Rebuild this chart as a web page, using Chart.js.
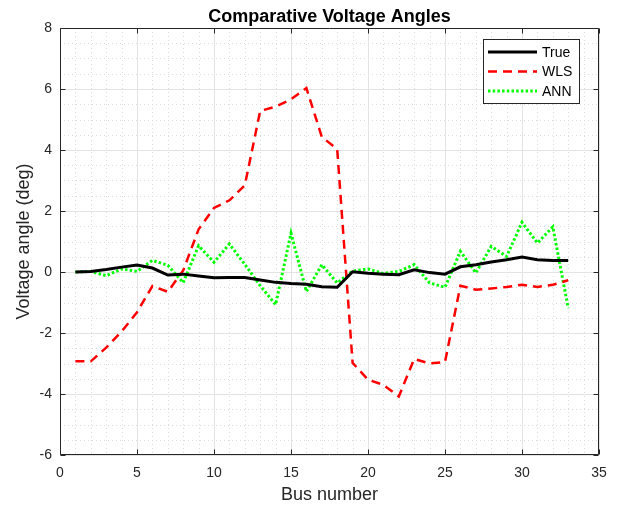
<!DOCTYPE html>
<html>
<head>
<meta charset="utf-8">
<title>Comparative Voltage Angles</title>
<script src="https://cdn.jsdelivr.net/npm/chart.js@4.4.1/dist/chart.umd.min.js"></script>
<style>
  html, body { margin: 0; padding: 0; background: #fff; }
  canvas { display: block; }
</style>
</head>
<body>
<canvas id="angleChart" width="619" height="506"></canvas>
<script>
'use strict';

// ============================================================
// DATA
// ============================================================
const busNumbers = [1, 2, 3, 4, 5, 6, 7, 8, 9, 10, 11, 12, 13, 14, 15, 16, 17,
                    18, 19, 20, 21, 22, 23, 24, 25, 26, 27, 28, 29, 30, 31, 32, 33];
const trueAngles = [0, 0.02, 0.08, 0.16, 0.23, 0.13, -0.1, -0.07, -0.13, -0.19, -0.18,
                    -0.18, -0.26, -0.34, -0.38, -0.4, -0.48, -0.5, 0.01, -0.04, -0.07,
                    -0.09, 0.07, -0.02, -0.07, 0.17, 0.24, 0.33, 0.4, 0.49, 0.4, 0.38, 0.38];
const wlsAngles  = [-2.93, -2.93, -2.48, -1.95, -1.32, -0.46, -0.65, 0.05, 1.4, 2.1, 2.35,
                    2.84, 5.28, 5.42, 5.66, 6.03, 4.43, 4.03, -2.98, -3.53, -3.7, -4.08,
                    -2.85, -3.0, -2.95, -0.45, -0.58, -0.54, -0.49, -0.42, -0.49, -0.42, -0.27];
const annAngles  = [0, 0.02, -0.12, 0.1, 0.02, 0.38, 0.22, -0.35, 0.86, 0.32, 0.92,
                    0.25, -0.45, -1.07, 1.27, -0.64, 0.24, -0.36, 0.03, 0.1, -0.05, 0.02,
                    0.24, -0.36, -0.5, 0.68, -0.03, 0.84, 0.51, 1.63, 0.95, 1.48, -1.18];

const xTicks = [0, 5, 10, 15, 20, 25, 30, 35];
const yTicks = [-6, -4, -2, 0, 2, 4, 6, 8];
const xMinorStep = 1;
const yMinorStep = 0.5;

const FONT = '"Liberation Sans", Arial, Helvetica, sans-serif';
const AXIS_COLOR = '#262626';

const toPoints = arr => arr.map((v, i) => ({ x: busNumbers[i], y: v }));

// ============================================================
// FRAME PLUGIN – grid, box, inward ticks, title, legend
// ============================================================
const matlabFrame = {
  id: 'matlabFrame',
  beforeDatasetsDraw(chart) {
    const { ctx, chartArea: a, scales: { x, y } } = chart;
    const px = v => Math.round(x.getPixelForValue(v)) + 0.5;
    const py = v => Math.round(y.getPixelForValue(v)) + 0.5;
    ctx.save();
    ctx.lineWidth = 1;

    // minor grid (dotted)
    ctx.strokeStyle = '#dcdcdc';
    ctx.setLineDash([1, 3]);
    ctx.beginPath();
    for (let v = x.min; v <= x.max; v += xMinorStep) {
      if (xTicks.includes(v)) continue;
      ctx.moveTo(px(v), a.top); ctx.lineTo(px(v), a.bottom);
    }
    for (let v = y.min; v <= y.max; v += yMinorStep) {
      if (yTicks.includes(v)) continue;
      ctx.moveTo(a.left, py(v)); ctx.lineTo(a.right, py(v));
    }
    ctx.stroke();

    // major grid (solid)
    ctx.setLineDash([]);
    ctx.strokeStyle = '#e3e3e3';
    ctx.beginPath();
    xTicks.forEach(v => { ctx.moveTo(px(v), a.top); ctx.lineTo(px(v), a.bottom); });
    yTicks.forEach(v => { ctx.moveTo(a.left, py(v)); ctx.lineTo(a.right, py(v)); });
    ctx.stroke();
    ctx.restore();
  },
  afterDraw(chart) {
    const { ctx, chartArea: a, scales: { x, y } } = chart;
    const px = v => Math.round(x.getPixelForValue(v)) + 0.5;
    const py = v => Math.round(y.getPixelForValue(v)) + 0.5;
    const L = Math.round(a.left) + 0.5, R = Math.round(a.right) - 0.5;
    const T = Math.round(a.top) + 0.5, B = Math.round(a.bottom) - 0.5;
    const tick = 5;
    ctx.save();

    // box + inward ticks on all sides
    ctx.strokeStyle = AXIS_COLOR;
    ctx.lineWidth = 1;
    ctx.beginPath();
    ctx.rect(L, T, R - L, B - T);
    xTicks.forEach(v => {
      ctx.moveTo(px(v), B); ctx.lineTo(px(v), B - tick);
      ctx.moveTo(px(v), T); ctx.lineTo(px(v), T + tick);
    });
    yTicks.forEach(v => {
      ctx.moveTo(L, py(v)); ctx.lineTo(L + tick, py(v));
      ctx.moveTo(R, py(v)); ctx.lineTo(R - tick, py(v));
    });
    ctx.stroke();

    // title
    ctx.fillStyle = '#000';
    ctx.font = 'bold 18px ' + FONT;
    ctx.textAlign = 'center';
    ctx.textBaseline = 'alphabetic';
    ctx.fillText('Comparative Voltage Angles', (a.left + a.right) / 2, 22);

    // legend
    const box = { x: 483.5, y: 39.5, w: 96, h: 64 };
    ctx.fillStyle = '#fff';
    ctx.fillRect(box.x, box.y, box.w, box.h);
    ctx.strokeStyle = AXIS_COLOR;
    ctx.lineWidth = 1;
    ctx.strokeRect(box.x, box.y, box.w, box.h);
    ctx.font = '14px ' + FONT;
    ctx.textAlign = 'left';
    ctx.textBaseline = 'middle';
    chart.data.datasets.forEach((ds, i) => {
      const ry = 52 + i * 19.5;
      ctx.strokeStyle = ds.borderColor;
      ctx.lineWidth = ds.borderWidth;
      ctx.setLineDash(ds.borderDash || []);
      ctx.beginPath();
      ctx.moveTo(488, ry); ctx.lineTo(537, ry);
      ctx.stroke();
      ctx.setLineDash([]);
      ctx.fillStyle = '#000';
      ctx.fillText(ds.label, 542, ry + 1);
    });
    ctx.restore();
  }
};

// ============================================================
// CHART
// ============================================================
new Chart(document.getElementById('angleChart'), {
  type: 'line',
  data: {
    datasets: [
      {
        label: 'True',
        data: toPoints(trueAngles),
        borderColor: '#000000',
        borderWidth: 3,
      },
      {
        label: 'WLS',
        data: toPoints(wlsAngles),
        borderColor: '#ff0000',
        borderWidth: 2.5,
        borderDash: [9, 6],
      },
      {
        label: 'ANN',
        data: toPoints(annAngles),
        borderColor: '#00ff00',
        borderWidth: 3,
        borderDash: [2.5, 2.2],
      }
    ]
  },
  options: {
    responsive: false,
    animation: false,
    devicePixelRatio: 1,
    layout: { padding: { top: 28, right: 20, left: 0, bottom: 0 } },
    elements: {
      point: { radius: 0, hoverRadius: 0 },
      line: { tension: 0, fill: false, borderCapStyle: 'butt', borderJoinStyle: 'miter' }
    },
    plugins: {
      legend: { display: false },
      title: { display: false },
      tooltip: { enabled: false }
    },
    scales: {
      x: {
        type: 'linear',
        min: xTicks[0],
        max: xTicks[xTicks.length - 1],
        afterFit: s => { s.height = 51; },
        grid: { display: false, drawTicks: false },
        border: { display: false },
        ticks: { stepSize: xTicks[1] - xTicks[0], padding: 10, color: AXIS_COLOR,
                 font: { family: FONT, size: 14 } },
        title: { display: true, text: 'Bus number', color: AXIS_COLOR,
                 font: { family: FONT, size: 18 }, padding: { top: 0, bottom: 0 } }
      },
      y: {
        min: yTicks[0],
        max: yTicks[yTicks.length - 1],
        afterFit: s => { s.width = 60; },
        grid: { display: false, drawTicks: false },
        border: { display: false },
        ticks: { stepSize: yTicks[1] - yTicks[0], padding: 8, color: AXIS_COLOR,
                 font: { family: FONT, size: 14 } },
        title: { display: true, text: 'Voltage angle (deg)', color: AXIS_COLOR,
                 font: { family: FONT, size: 18 }, padding: { top: 13, bottom: 0 } }
      }
    }
  },
  plugins: [matlabFrame]
});
</script>
</body>
</html>
